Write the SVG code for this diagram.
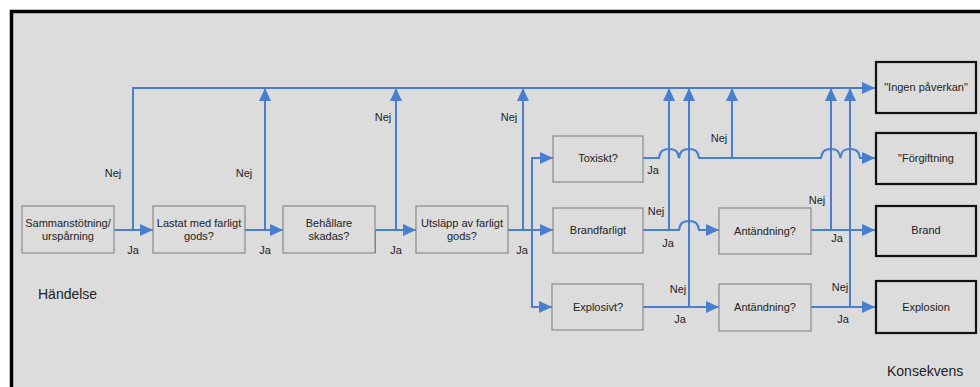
<svg xmlns="http://www.w3.org/2000/svg" width="980" height="387" viewBox="0 0 980 387">
<defs>
<marker id="ah" markerUnits="userSpaceOnUse" markerWidth="14" markerHeight="14" viewBox="0 0 14 14" refX="13" refY="7" orient="auto">
<path d="M0,1 L13,7 L0,13 Z" fill="#4a7fd0"/>
</marker>
<style>
.bg{fill:#dcdcdc;stroke:#000;stroke-width:3.5}
.n rect{fill:#dcdcdc;stroke:#8a8a8a;stroke-width:1.2}
.c rect{fill:#dcdcdc;stroke:#111;stroke-width:2.2}
text{font-family:"Liberation Sans",Arial,sans-serif;font-size:11px;fill:#222;text-anchor:middle}
.big{font-size:14px;text-anchor:start}
.l{fill:none;stroke:#4a7fd0;stroke-width:2}
.a{marker-end:url(#ah)}
</style>
</defs>
<rect class="bg" x="11.5" y="11.5" width="990" height="400"/>

<g id="connectors">
<path class="l a" d="M114,230 H153"/>
<path class="l a" d="M133,230 V88 H875"/>
<path class="l a" d="M245,230 H283"/>
<path class="l a" d="M265,230 V88"/>
<path class="l a" d="M375,230 H416"/>
<path class="l" d="M375,230 V253"/>
<path class="l a" d="M396,230 V88"/>
<path class="l a" d="M508,230 H553"/>
<path class="l a" d="M523,230 V88"/>
<path class="l a" d="M532,230 V158 H553"/>
<path class="l a" d="M532,230 V307 H552"/>
<path class="l a" d="M643,158 H659 C660,151 663,149 669,149 C675,149 678,151 679,158 C680,151 683,149 689,149 C695,149 698,151 699,158 H821 C822,151 825,149 831,149 C837,149 839,151 840.5,158 C841.5,151 844,149 850,149 C856,149 859,151 860,158 H875"/>
<path class="l a" d="M732,158 V88"/>
<path class="l a" d="M643,230 H679 C680,223 683,221 689,221 C695,221 698,223 699,230 H719"/>
<path class="l a" d="M669,230 V88"/>
<path class="l a" d="M643,307 H719"/>
<path class="l a" d="M689,307 V88"/>
<path class="l a" d="M811,230 H875"/>
<path class="l a" d="M831,230 V88"/>
<path class="l a" d="M811,307 H875"/>
<path class="l a" d="M850,307 V88"/>
</g>

<g id="labels">
<text x="113" y="177">Nej</text>
<text x="244" y="177">Nej</text>
<text x="383" y="121">Nej</text>
<text x="509" y="121">Nej</text>
<text x="719" y="142">Nej</text>
<text x="656" y="215">Nej</text>
<text x="678" y="293">Nej</text>
<text x="817" y="204">Nej</text>
<text x="840" y="291">Nej</text>
<text x="133" y="254">Ja</text>
<text x="265" y="254">Ja</text>
<text x="396" y="254">Ja</text>
<text x="522" y="254">Ja</text>
<text x="653" y="174">Ja</text>
<text x="668" y="247">Ja</text>
<text x="680" y="323">Ja</text>
<text x="837" y="242">Ja</text>
<text x="843" y="323">Ja</text>
</g>

<g id="n1" class="n"><rect x="22" y="206" width="92" height="47"/><text x="68" y="227">Sammanstötning/</text><text x="68" y="240">urspårning</text></g>
<g id="n2" class="n"><rect x="153" y="206" width="92" height="47"/><text x="199" y="227">Lastat med farligt</text><text x="199" y="240">gods?</text></g>
<g id="n3" class="n"><rect x="283" y="206" width="92" height="47"/><text x="329" y="227">Behållare</text><text x="329" y="240">skadas?</text></g>
<g id="n4" class="n"><rect x="416" y="206" width="92" height="47"/><text x="462" y="227">Utsläpp av farligt</text><text x="462" y="240">gods?</text></g>
<g id="n5" class="n"><rect x="553" y="136" width="90" height="46"/><text x="598" y="162">Toxiskt?</text></g>
<g id="n6" class="n"><rect x="553" y="208" width="90" height="45"/><text x="598" y="234">Brandfarligt</text></g>
<g id="n7" class="n"><rect x="552" y="284" width="91" height="46"/><text x="598" y="311">Explosivt?</text></g>
<g id="n8" class="n"><rect x="719" y="208" width="92" height="46"/><text x="765" y="235">Antändning?</text></g>
<g id="n9" class="n"><rect x="719" y="284" width="92" height="47"/><text x="765" y="311">Antändning?</text></g>
<g id="c1" class="c"><rect x="876" y="62" width="100" height="51"/><text x="926" y="91">"Ingen påverkan"</text></g>
<g id="c2" class="c"><rect x="876" y="133" width="100" height="51"/><text x="926" y="162">"Förgiftning</text></g>
<g id="c3" class="c"><rect x="876" y="206" width="100" height="50"/><text x="926" y="234">Brand</text></g>
<g id="c4" class="c"><rect x="876" y="281" width="100" height="52"/><text x="926" y="311">Explosion</text></g>

<text class="big" x="38" y="299">Händelse</text>
<text class="big" x="887" y="376">Konsekvens</text>
</svg>
